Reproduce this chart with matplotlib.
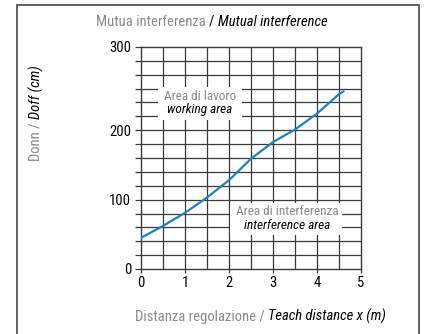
import matplotlib.pyplot as plt
from matplotlib.patches import Rectangle

plt.rcParams['font.family'] = ['Roboto Condensed', 'DejaVu Sans']

# teach distance (m) vs Donn/Doff (cm)
distance = [0, 0.5, 1, 1.5, 2, 2.5, 3, 3.5, 4, 4.5, 4.6]
donn_doff = [45, 62, 81, 103, 128, 159, 183, 201, 224, 252, 256]

x_ticks = [0, 1, 2, 3, 4, 5]
y_ticks = [0, 100, 200, 320]
y_tick_labels = ['0', '100', '200', '300']

GRAY = '#8a8a8a'
BLUE = '#1f80c2'
GRID = '#3a3a3a'

W, H = 425, 334
fig = plt.figure(figsize=(W / 100, H / 100), dpi=100)
ax = fig.add_axes([141 / W, 65 / H, 220 / W, 222 / H])

ax.set_xlim(0, 5)
ax.set_ylim(0, 320)

# grid every 0.5 m and 20 cm
for gx in [i * 0.5 for i in range(1, 10)]:
    ax.axvline(gx, color=GRID, lw=0.9, zorder=1)
for gy in range(20, 320, 20):
    ax.axhline(gy, color=GRID, lw=0.9, zorder=1)

ax.set_xticks(x_ticks)
ax.set_yticks(y_ticks)
ax.set_yticklabels(y_tick_labels)
ax.set_yticks(range(20, 320, 20), minor=True)
ax.tick_params(axis='y', which='both', length=4, width=0.9, color=GRID, pad=3, labelsize=10.5)
ax.tick_params(axis='x', length=3, width=0.9, color=GRID, pad=2, labelsize=10.5)
for s in ax.spines.values():
    s.set_color(GRID)
    s.set_linewidth(1.0)

ax.plot(distance, donn_doff, color=BLUE, lw=1.6, zorder=3)

# area labels on white patches
ax.add_patch(Rectangle((0.39, 215), 1.91, 47, facecolor='white', edgecolor='none', zorder=2))
ax.text(1.34, 249, 'Area di lavoro', color=GRAY, ha='center', va='center', fontsize=9.5, zorder=4)
ax.text(1.34, 230, 'working area', color='black', style='italic', ha='center', va='center',
        fontsize=9.5, zorder=4)

ax.add_patch(Rectangle((2.02, 49), 2.55, 46, facecolor='white', edgecolor='none', zorder=2))
ax.text(3.32, 83, 'Area di interferenza', color=GRAY, ha='center', va='center', fontsize=9.5, zorder=4)
ax.text(3.32, 63, 'interference area', color='black', style='italic', ha='center', va='center',
        fontsize=9.5, zorder=4)


def rainbow(x, y, parts, vertical=False, size=10.5):
    # draw text pieces one after another, each with its own colour and style
    t = fig.text(x, y, parts[0][0], color=parts[0][1], style=parts[0][2], fontsize=size,
                 rotation=90 if vertical else 0, ha='left', va='bottom')
    for text, color, style in parts[1:]:
        if vertical:
            t = ax.annotate(text, xy=(0, 1), xycoords=t, color=color, style=style,
                            fontsize=size, rotation=90, ha='left', va='bottom',
                            annotation_clip=False)
        else:
            t = ax.annotate(text, xy=(1, 0), xycoords=t, color=color, style=style,
                            fontsize=size, ha='left', va='bottom', annotation_clip=False)


rainbow(96 / W, 1 - 29 / H, [('Mutua interferenza ', GRAY, 'normal'),
                             ('/ ', 'black', 'normal'),
                             ('Mutual interference', 'black', 'italic')])
rainbow(135 / W, 1 - 324 / H, [('Distanza regolazione / ', GRAY, 'normal'),
                               ('Teach distance x (m)', 'black', 'italic')])
rainbow(29 / W, 1 - 161 / H, [('Donn / ', GRAY, 'normal'),
                              ('Doff (cm)', 'black', 'italic')], vertical=True)

# frame around the whole figure
fig.patches.append(Rectangle((17 / W, -0.1), 402 / W, 1.1 - 5 / H, transform=fig.transFigure,
                             facecolor='none', edgecolor='#555555', lw=1.3))

fig.savefig('out.png', dpi=100)
